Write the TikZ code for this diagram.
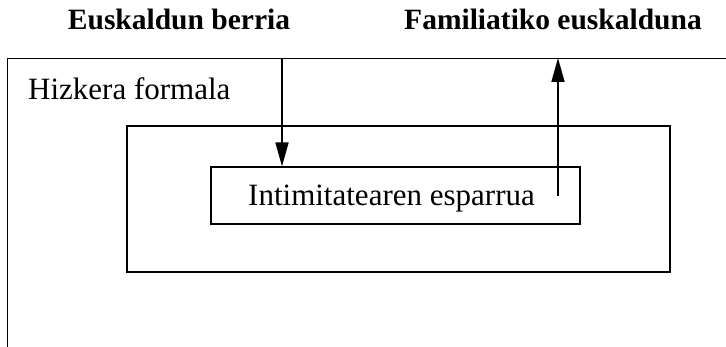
\documentclass[tikz,border=0pt]{standalone}
\usepackage{fontspec}
\setmainfont{Liberation Serif}
\usetikzlibrary{arrows.meta}
\begin{document}
\begin{tikzpicture}[x=1pt,y=1pt,
  box/.style={draw, line width=1.2pt, inner sep=0pt},
  arr/.style={line width=1.7pt, -{Triangle[length=24pt,width=13pt]}},
  title/.style={font=\bfseries\fontsize{29.5}{34}\selectfont, anchor=base},
  txt/.style={font=\fontsize{31}{36}\selectfont}]
\useasboundingbox (0,0) rectangle (726,346);
\clip (0,0) rectangle (726,346);
\node[box, anchor=north west, minimum width=900pt, minimum height=400pt] (outer) at (7,288) {};
\node[box, minimum width=543pt, minimum height=146pt] (mid) at (398.5,147) {};
\node[box, minimum width=369pt, minimum height=57pt] (inner) at (395.5,150.5) {};
\node[txt, anchor=base] (it) at (391.5,141) {Intimitatearen esparrua};
\node[txt, anchor=base west, inner sep=0pt] (hf) at (28,246) {Hizkera formala};
\node[title] (eb) at (179,316) {Euskaldun berria};
\node[title] (fe) at (553,316) {Familiatiko euskalduna};
\coordinate (a1) at (282,288);
\coordinate (b1) at (558,150);
\draw[arr] (a1) -- (a1 |- inner.north);
\draw[arr] (b1) -- (b1 |- outer.north);
\end{tikzpicture}
\end{document}
